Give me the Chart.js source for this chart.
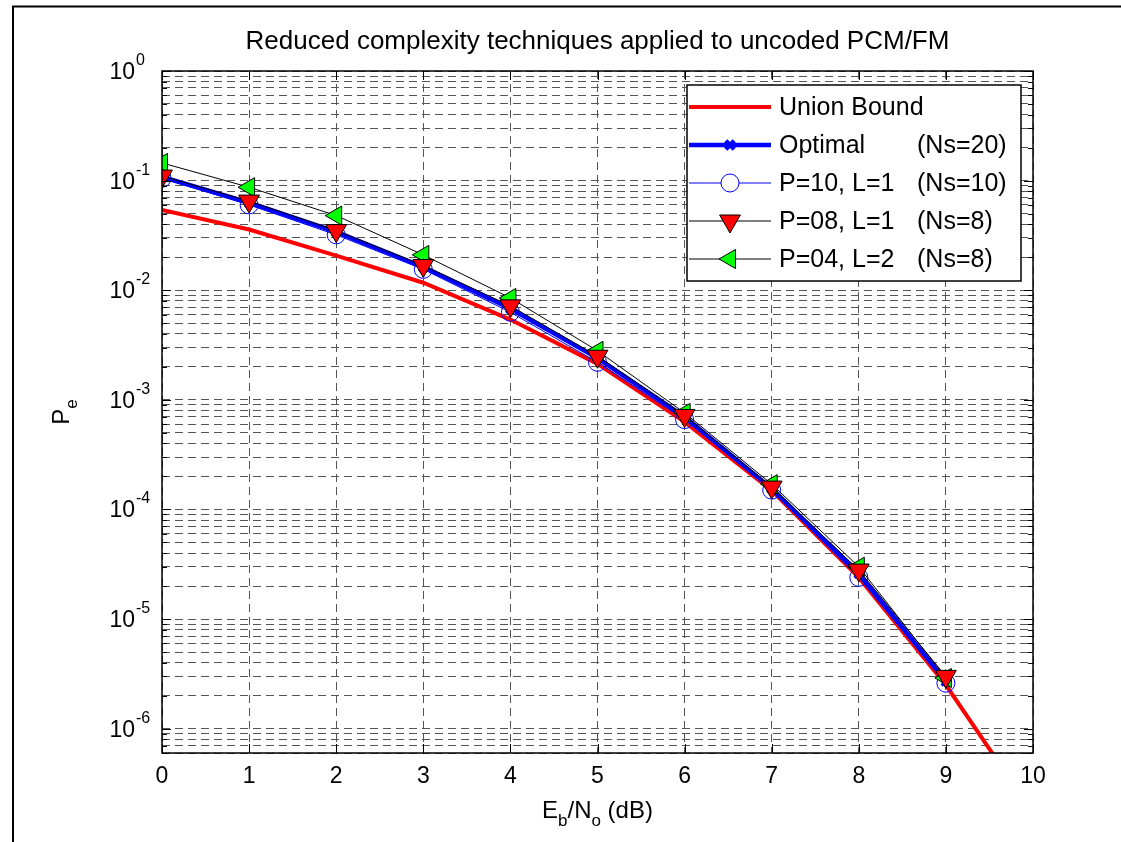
<!DOCTYPE html>
<html>
<head>
<meta charset="utf-8">
<script src="https://cdn.jsdelivr.net/npm/chart.js@4.4.1/dist/chart.umd.min.js"></script>
<style>
  html, body { margin: 0; padding: 0; background: #fff; }
  #wrap { width: 1121px; height: 842px; position: relative; }
</style>
</head>
<body>
<div id="wrap"><canvas id="c" width="1121" height="842"></canvas></div>
<script>
// Eb/No (dB) points
const ebno = [0, 1, 2, 3, 4, 5, 6, 7, 8, 9]
const ebnoUnion = [0, 1, 2, 3, 4, 5, 6, 7, 8, 9, 10]

// error probabilities
const unionBound = [0.054, 0.0358, 0.0207, 0.0117, 0.0054, 0.00213, 6.3e-4, 1.49e-4, 2.4e-5, 2.5e-6, 1.7e-7]
const optimal = [0.108, 0.063, 0.034, 0.0163, 0.0068, 0.0024, 7.0e-4, 1.55e-4, 2.6e-5, 2.7e-6]
const p10l1 = [0.105, 0.060, 0.032, 0.0155, 0.0063, 0.0022, 6.6e-4, 1.5e-4, 2.4e-5, 2.6e-6]
const p08l1 = [0.110, 0.065, 0.035, 0.0168, 0.0072, 0.0025, 7.2e-4, 1.6e-4, 2.8e-5, 3.0e-6]
const p04l2 = [0.145, 0.087, 0.048, 0.0210, 0.0085, 0.0028, 7.6e-4, 1.7e-4, 3.0e-5, 2.9e-6]

const legendNames = ['Union Bound', 'Optimal', 'P=10, L=1', 'P=08, L=1', 'P=04, L=2']
const legendNs = ['', '(Ns=20)', '(Ns=10)', '(Ns=8)', '(Ns=8)']

const xTickLabels = ['0', '1', '2', '3', '4', '5', '6', '7', '8', '9', '10']
const yTickExponents = [0, -1, -2, -3, -4, -5, -6]
const yMin = 6e-7
const yMax = 1

const FONT = 'Arial, "Liberation Sans", Helvetica, sans-serif'

const pts = (xs, ys) => ys.map((y, i) => ({ x: xs[i], y: y }))

const frameAndText = {
    id: 'frameAndText',
    beforeDraw(chart) {
        const ctx = chart.ctx
        ctx.save()
        ctx.fillStyle = '#fff'
        ctx.fillRect(0, 0, chart.width, chart.height)
        // outer figure border
        ctx.strokeStyle = '#000'
        ctx.lineWidth = 2
        ctx.strokeRect(13, 6.5, 2000, 2000)
        ctx.restore()
    },
    afterDraw(chart) {
        const ctx = chart.ctx
        const a = chart.chartArea
        const xs = chart.scales.x
        const ys = chart.scales.y
        ctx.save()

        // axes box
        ctx.strokeStyle = '#000'
        ctx.lineWidth = 1.5
        ctx.setLineDash([])
        ctx.strokeRect(a.left, a.top, a.right - a.left, a.bottom - a.top)

        // tick marks inside the box
        ctx.lineWidth = 1
        ctx.beginPath()
        ys.ticks.forEach(t => {
            const py = Math.round(ys.getPixelForValue(t.value)) + 0.5
            const len = t.major ? 9 : 5
            ctx.moveTo(a.left, py); ctx.lineTo(a.left + len, py)
            ctx.moveTo(a.right, py); ctx.lineTo(a.right - len, py)
        })
        xs.ticks.forEach(t => {
            const px = Math.round(xs.getPixelForValue(t.value)) + 0.5
            ctx.moveTo(px, a.bottom); ctx.lineTo(px, a.bottom - 9)
            ctx.moveTo(px, a.top); ctx.lineTo(px, a.top + 9)
        })
        ctx.stroke()

        ctx.fillStyle = '#000'
        // x tick labels
        ctx.font = '23px ' + FONT
        ctx.textAlign = 'center'
        ctx.textBaseline = 'alphabetic'
        xTickLabels.forEach((lab, i) => {
            ctx.fillText(lab, xs.getPixelForValue(i), a.bottom + 30)
        })

        // y tick labels 10^n
        yTickExponents.forEach(e => {
            const py = ys.getPixelForValue(Math.pow(10, e))
            ctx.font = '23px ' + FONT
            ctx.textAlign = 'right'
            ctx.fillText('10', 135, py + 8)
            ctx.font = '16px ' + FONT
            ctx.textAlign = 'left'
            ctx.fillText(String(e), 136, py - 6)
        })

        // title
        ctx.font = '26px ' + FONT
        ctx.textAlign = 'center'
        ctx.fillText('Reduced complexity techniques applied to uncoded PCM/FM', (a.left + a.right) / 2, 49)

        // x axis label  Eb/No (dB)
        const cx = (a.left + a.right) / 2
        const parts = [['E', 24, 0], ['b', 17, 8], ['/N', 24, 0], ['o', 17, 8], [' (dB)', 24, 0]]
        let w = 0
        parts.forEach(p => { ctx.font = p[1] + 'px ' + FONT; w += ctx.measureText(p[0]).width })
        let x0 = cx - w / 2
        ctx.textAlign = 'left'
        parts.forEach(p => {
            ctx.font = p[1] + 'px ' + FONT
            ctx.fillText(p[0], x0, 818 + p[2])
            x0 += ctx.measureText(p[0]).width
        })

        // y axis label  Pe
        ctx.save()
        ctx.translate(69, (a.top + a.bottom) / 2)
        ctx.rotate(-Math.PI / 2)
        ctx.font = '24px ' + FONT
        ctx.textAlign = 'left'
        const pw = ctx.measureText('P').width
        ctx.font = '17px ' + FONT
        const ew = ctx.measureText('e').width
        ctx.font = '24px ' + FONT
        ctx.fillText('P', -(pw + ew) / 2, 0)
        ctx.font = '17px ' + FONT
        ctx.fillText('e', -(pw + ew) / 2 + pw, 8)
        ctx.restore()

        // legend
        const lx = 687, ly = 85, lw = 1021 - 687, lh = 281 - 85
        ctx.fillStyle = '#fff'
        ctx.fillRect(lx, ly, lw, lh)
        ctx.strokeStyle = '#000'
        ctx.lineWidth = 1.5
        ctx.strokeRect(lx, ly, lw, lh)
        chart.data.datasets.forEach((ds, i) => {
            const ry = ly + 22 + i * 38
            ctx.strokeStyle = ds.borderColor
            ctx.lineWidth = ds.borderWidth
            ctx.beginPath()
            ctx.moveTo(lx + 2, ry); ctx.lineTo(lx + 84, ry)
            ctx.stroke()
            if (ds.pointRadius > 0) {
                ctx.fillStyle = ds.legendFill || ds.pointBackgroundColor
                ctx.strokeStyle = ds.pointBorderColor
                Chart.helpers.drawPoint(ctx, {
                    pointStyle: ds.pointStyle,
                    radius: ds.pointRadius,
                    rotation: ds.pointRotation || 0,
                    borderWidth: ds.pointBorderWidth
                }, lx + 43, ry)
            }
            ctx.fillStyle = '#000'
            ctx.font = '25px ' + FONT
            ctx.textAlign = 'left'
            ctx.textBaseline = 'middle'
            ctx.fillText(legendNames[i], 779, ry + 1)
            ctx.fillText(legendNs[i], 917, ry + 1)
            ctx.textBaseline = 'alphabetic'
        })
        ctx.restore()
    }
}

new Chart(document.getElementById('c'), {
    type: 'line',
    data: {
        datasets: [
            {
                label: legendNames[0],
                data: pts(ebnoUnion, unionBound),
                borderColor: '#ff0000',
                borderWidth: 4,
                pointRadius: 0,
                order: 5
            },
            {
                label: legendNames[1],
                data: pts(ebno, optimal),
                borderColor: '#0000ff',
                borderWidth: 4.5,
                pointStyle: 'crossRot',
                pointRadius: 6,
                pointBorderWidth: 3,
                pointBorderColor: '#0000ff',
                pointBackgroundColor: '#0000ff',
                order: 4
            },
            {
                label: legendNames[2],
                data: pts(ebno, p10l1),
                borderColor: '#0000ff',
                borderWidth: 1,
                pointStyle: 'circle',
                pointRadius: 9,
                pointBorderWidth: 1,
                pointBorderColor: '#0000ff',
                pointBackgroundColor: 'rgba(0,0,0,0)',
                legendFill: '#fff',
                order: 3
            },
            {
                label: legendNames[3],
                data: pts(ebno, p08l1),
                borderColor: '#000',
                borderWidth: 1,
                pointStyle: 'triangle',
                pointRotation: 180,
                pointRadius: 12,
                pointBorderWidth: 1,
                pointBorderColor: '#000',
                pointBackgroundColor: '#ff0000',
                order: 1
            },
            {
                label: legendNames[4],
                data: pts(ebno, p04l2),
                borderColor: '#000',
                borderWidth: 1,
                pointStyle: 'triangle',
                pointRotation: 270,
                pointRadius: 11,
                pointBorderWidth: 1,
                pointBorderColor: '#000',
                pointBackgroundColor: '#00ff00',
                order: 2
            }
        ]
    },
    options: {
        responsive: false,
        animation: false,
        layout: { padding: { left: 162, right: 88, top: 71, bottom: 89 } },
        plugins: {
            legend: { display: false },
            tooltip: { enabled: false }
        },
        elements: { line: { tension: 0 } },
        scales: {
            x: {
                type: 'linear',
                min: 0,
                max: 10,
                ticks: { display: false, stepSize: 1 },
                grid: { drawTicks: false, color: '#555', lineWidth: 1 },
                border: { display: false, dash: [8, 5] }
            },
            y: {
                type: 'logarithmic',
                min: yMin,
                max: yMax,
                afterBuildTicks(scale) {
                    const ticks = []
                    yTickExponents.forEach(e => {
                        for (let k = 1; k <= 9; k++) {
                            const v = k * Math.pow(10, e - 1)
                            if (v >= yMin * 0.999 && v <= yMax * 1.001) ticks.push({ value: v, major: k === 1 })
                        }
                    })
                    ticks.push({ value: 1, major: true })
                    scale.ticks = ticks
                },
                ticks: { display: false },
                grid: { drawTicks: false, color: '#555', lineWidth: 1 },
                border: { display: false, dash: [8, 5] }
            }
        }
    },
    plugins: [frameAndText]
})
</script>
</body>
</html>
